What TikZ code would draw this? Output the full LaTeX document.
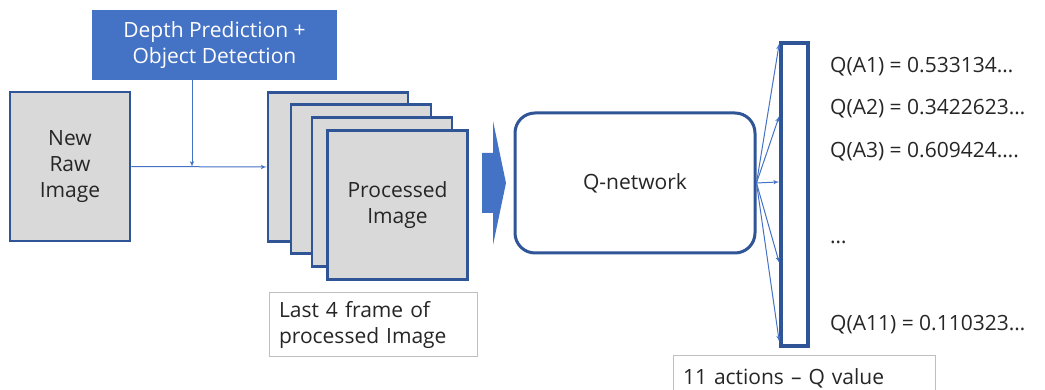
\documentclass[tikz,border=0pt]{standalone}
\usepackage{fontspec}
\setmainfont{Open Sans}
\usepackage{tikz}
\usetikzlibrary{arrows}
\usetikzlibrary{calc}

\definecolor{boxblue}{HTML}{4472C4}
\definecolor{edgeblue}{HTML}{2F5597}
\definecolor{framegray}{HTML}{D9D9D9}
\definecolor{notegray}{HTML}{BFBFBF}
\definecolor{inkgray}{HTML}{262626}

\begin{document}
\begin{tikzpicture}[x=1pt,y=-1pt,>=latex',font=\fontsize{21}{26}\selectfont,text=inkgray,
	img node/.style={rectangle,draw=edgeblue,line width=2.5pt,fill=framegray,align=center,
		minimum width=140pt,minimum height=149pt,inner sep=0pt},
	note node/.style={rectangle,draw=notegray,line width=1pt,fill=white,align=left,
		inner xsep=10pt,inner ysep=3pt},
	link/.style={->,draw=boxblue,line width=1pt},
	qval/.style={anchor=west,inner sep=0pt}]

	\clip (0,0) rectangle (1045,390);

	\node[fill=boxblue,text=white,minimum width=245pt,minimum height=70pt,align=center] (detect) at (214.5,45) {Depth Prediction +\\Object Detection};
	\node[img node,minimum width=120pt] (raw) at (70,166.5) {New\\Raw\\Image};

	% four stacked frames, only the front one shows its text
	\node[img node] (f1) at (338,167) {};
	\node[img node] (f2) at (361,179) {};
	\node[img node] (f3) at (382,192) {};
	\node[img node] (f4) at (397.5,205) {Processed\\Image};
	\node[note node,text width=188pt,minimum height=63pt] (last) at (373,324.5) {Last 4 frame of\\processed Image};

	\coordinate (join) at (192,167);
	\draw[link] (raw.east) -- (f1.west);
	\draw[link] (detect.south -| join) -- (join);

	\fill[boxblue] (482,153) -- (493,153) -- (493,121) -- (506,183) -- (493,245) -- (493,213) -- (482,213) -- cycle;

	\node[rectangle,rounded corners=20pt,draw=edgeblue,line width=3pt,fill=white,minimum width=240pt,minimum height=140pt] (qnet) at (635,183) {Q-network};
	\node[rectangle,draw=edgeblue,line width=3.5pt,fill=white,minimum width=27pt,minimum height=303pt,inner sep=0pt] (out) at (794.5,194.5) {};

	\foreach \f in {0.007,0.244,0.459,0.723,0.98}
		\draw[link] (qnet.east) -- ($(out.north west)!\f!(out.south west)$);

	\node[qval] (q1) at (830,67) {Q(A1) = 0.533134…};
	\node[qval] (q2) at (830,109) {Q(A2) = 0.3422623…};
	\node[qval] (q3) at (830,152) {Q(A3) = 0.609424….};
	\node[qval] (qdots) at (830,242) {…};
	\node[qval] (q11) at (830,325) {Q(A11) = 0.110323…};
	\node[note node,text width=242pt,minimum height=46pt] (actions) at (804,378) {11 actions – Q value};
\end{tikzpicture}
\end{document}
